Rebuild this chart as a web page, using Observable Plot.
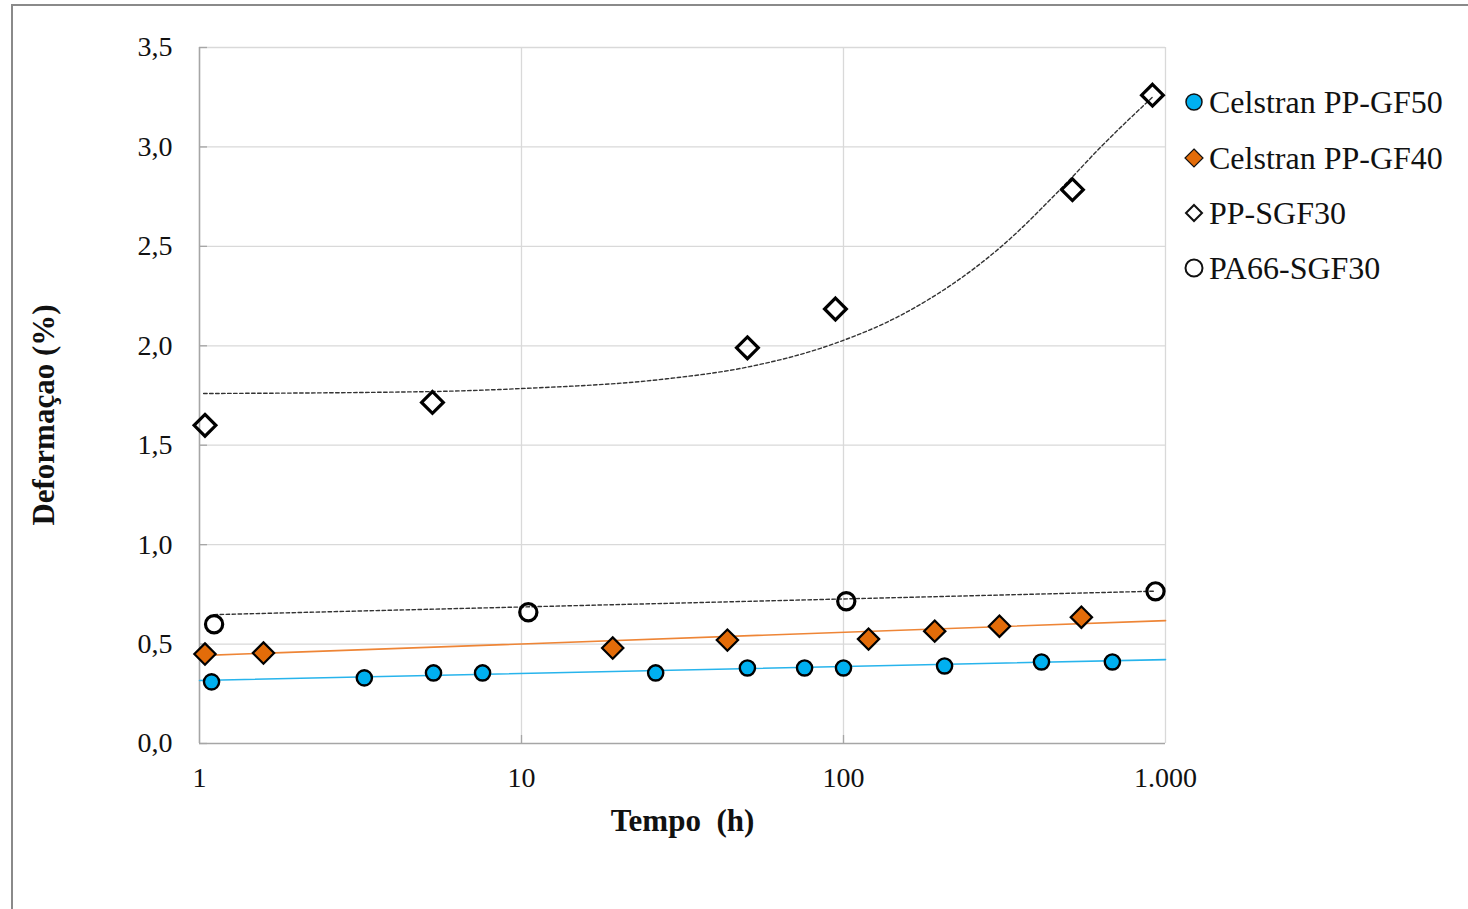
<!DOCTYPE html>
<html>
<head>
<meta charset="utf-8">
<script src="https://cdn.jsdelivr.net/npm/d3@7"></script>
<script src="https://cdn.jsdelivr.net/npm/@observablehq/plot@0.6"></script>
<style>
  html, body { margin: 0; padding: 0; background: #fff; overflow: hidden; }
  #wrap { position: relative; width: 1468px; height: 909px; overflow: hidden; background: #fff; }
  #frame { position: absolute; left: 11px; top: 4px; width: 3000px; height: 3000px; border: 2px solid #8a8a8a; box-sizing: border-box; pointer-events: none; }
  #chart { position: absolute; left: 0; top: 0; }
  #chart svg [aria-label="x-axis label"] text { font-weight: bold; font-size: 31px; }
  #ytitle { position: absolute; left: 43px; top: 415px; transform: translate(-50%, -50%) rotate(-90deg); white-space: nowrap;
            font-family: "Liberation Serif", "Times New Roman", serif; font-weight: bold; font-size: 31px; color: #111; line-height: 1; }
  #legend { position: absolute; left: 1180px; top: 78px; }
  #legend text { font-family: "Liberation Serif", "Times New Roman", serif; font-size: 32px; fill: #111; }
</style>
</head>
<body>
<div id="wrap">
  <div id="chart"></div>
  <div id="ytitle"></div>
  <svg id="legend" width="288" height="220"></svg>
  <div id="frame"></div>
</div>
<script>
// ---- data ----
const seriesNames = ["Celstran PP-GF50", "Celstran PP-GF40", "PP-SGF30", "PA66-SGF30"];

const gf50Time  = [1.09, 3.25, 5.33, 7.57, 26.1, 50.3, 75.7, 100, 206, 412, 684];
const gf50Def   = [0.31, 0.33, 0.355, 0.355, 0.355, 0.38, 0.38, 0.38, 0.39, 0.41, 0.41];

const gf40Time  = [1.04, 1.58, 19.2, 43.6, 119.6, 192, 305, 548];
const gf40Def   = [0.45, 0.455, 0.48, 0.52, 0.525, 0.565, 0.59, 0.635];

const sgf30Time = [1.04, 5.29, 50.3, 94.4, 514, 911];
const sgf30Def  = [1.60, 1.715, 1.99, 2.185, 2.785, 3.26];

const pa66Time  = [1.11, 10.5, 102, 931];
const pa66Def   = [0.60, 0.66, 0.715, 0.765];

// trend lines
const trendGF50Time  = [1, 1000];
const trendGF50Def   = [0.317, 0.422];
const trendGF40Time  = [1, 1000];
const trendGF40Def   = [0.442, 0.618];
const trendPA66Time  = [1.11, 931];
const trendPA66Def   = [0.648, 0.766];
const trendSGF30Time = [1.03, 5.3, 10, 28.3, 50, 93.3, 150, 307, 495, 628, 911];
const trendSGF30Def  = [1.76, 1.77, 1.785, 1.834, 1.892, 2.01, 2.152, 2.495, 2.822, 2.998, 3.25];

const xTicks = [1, 10, 100, 1000];
const xTickLabels = ["1", "10", "100", "1.000"];
const yTicks = [0, 0.5, 1.0, 1.5, 2.0, 2.5, 3.0, 3.5];
const yTickLabels = ["0,0", "0,5", "1,0", "1,5", "2,0", "2,5", "3,0", "3,5"];

const xLabel = "Tempo\u00a0\u00a0(h)";
const yLabel = "Deformaçao (%)";

const colors = { gf50: "#00b0f0", gf40: "#e36c09", gf50Trend: "#27b4ec", gf40Trend: "#ee8536", dark: "#000000" };

// ---- tables ----
const zip = (t, v) => t.map((d, i) => ({ t: d, v: v[i] }));
const gf50 = zip(gf50Time, gf50Def);
const gf40 = zip(gf40Time, gf40Def);
const sgf30 = zip(sgf30Time, sgf30Def);
const pa66 = zip(pa66Time, pa66Def);
const tGF50 = zip(trendGF50Time, trendGF50Def);
const tGF40 = zip(trendGF40Time, trendGF40Def);
const tPA66 = zip(trendPA66Time, trendPA66Def);
const tSGF30 = zip(trendSGF30Time, trendSGF30Def);

const chart = Plot.plot({
  width: 1468,
  height: 909,
  marginLeft: 199,
  marginRight: 303,
  marginTop: 47,
  marginBottom: 166,
  style: { fontFamily: "'Liberation Serif', 'Times New Roman', serif", fontSize: "28px", color: "#111", background: "transparent" },
  x: { type: "log", domain: [1, 1000] },
  y: { domain: [0, 3.5] },
  marks: [
    Plot.ruleY(yTicks.filter(d => d > 0), { stroke: "#d9d9d9", strokeWidth: 1.3 }),
    Plot.ruleX(xTicks.filter(d => d > 1), { stroke: "#d9d9d9", strokeWidth: 1.3 }),
    // tick marks pointing inward
    Plot.axisY({ ticks: yTicks, tickSize: -8, tickFormat: () => "", stroke: "#a6a6a6", strokeWidth: 1.3, label: null }),
    Plot.axisX({ ticks: xTicks.filter(d => d > 1 && d < 1000), tickSize: -8, tickFormat: () => "", stroke: "#a6a6a6", strokeWidth: 1.3, label: null }),
    Plot.ruleY([0], { stroke: "#a6a6a6", strokeWidth: 1.6 }),
    Plot.ruleX([1], { stroke: "#a6a6a6", strokeWidth: 1.6 }),
    Plot.axisX({ ticks: xTicks, tickFormat: d => xTickLabels[xTicks.indexOf(d)], tickSize: 0, tickPadding: 24, fontSize: 28,
                 label: xLabel, labelAnchor: "center", labelArrow: "none", labelOffset: 87 }),
    Plot.axisY({ ticks: yTicks, tickFormat: d => yTickLabels[yTicks.indexOf(d)], tickSize: 0, tickPadding: 27, fontSize: 28,
                 label: null }),
    // trend lines
    Plot.line(tGF50, { x: "t", y: "v", stroke: colors.gf50Trend, strokeWidth: 1.6 }),
    Plot.line(tGF40, { x: "t", y: "v", stroke: colors.gf40Trend, strokeWidth: 1.6 }),
    Plot.line(tPA66, { x: "t", y: "v", stroke: "#333", strokeWidth: 1.4, strokeDasharray: "3.5,2.5" }),
    Plot.line(tSGF30, { x: "t", y: "v", stroke: "#333", strokeWidth: 1.4, strokeDasharray: "3.5,2.5", curve: "monotone-x" }),
    // markers
    Plot.dot(gf50, { x: "t", y: "v", r: 7.6, fill: colors.gf50, stroke: colors.dark, strokeWidth: 2.4 }),
    Plot.dot(gf40, { x: "t", y: "v", symbol: "diamond2", r: 9.6, fill: colors.gf40, stroke: colors.dark, strokeWidth: 2.2 }),
    Plot.dot(sgf30, { x: "t", y: "v", symbol: "diamond2", r: 9.8, fill: "none", stroke: colors.dark, strokeWidth: 3.2 }),
    Plot.dot(pa66, { x: "t", y: "v", r: 8.6, fill: "none", stroke: colors.dark, strokeWidth: 3.2 })
  ]
});
document.getElementById("chart").appendChild(chart);
document.getElementById("ytitle").textContent = yLabel;

// ---- legend ----
const lg = d3.select("#legend");
const rowY = [24, 80, 135, 190];
const mx = 14;
const rows = lg.selectAll("g").data(seriesNames).join("g").attr("transform", (d, i) => `translate(0,${rowY[i]})`);
rows.each(function (d, i) {
  const g = d3.select(this);
  if (i === 0) g.append("circle").attr("cx", mx).attr("cy", 0).attr("r", 8).attr("fill", colors.gf50).attr("stroke", "#111").attr("stroke-width", 1.5);
  if (i === 1) g.append("path").attr("d", `M${mx},-9L${mx + 9},0L${mx},9L${mx - 9},0Z`).attr("fill", colors.gf40).attr("stroke", "#111").attr("stroke-width", 1.2);
  if (i === 2) g.append("path").attr("d", `M${mx},-8L${mx + 8},0L${mx},8L${mx - 8},0Z`).attr("fill", "none").attr("stroke", "#111").attr("stroke-width", 2);
  if (i === 3) g.append("circle").attr("cx", mx).attr("cy", 0).attr("r", 8.5).attr("fill", "none").attr("stroke", "#111").attr("stroke-width", 2);
  g.append("text").attr("x", 29).attr("y", 0).attr("dy", "0.35em").text(d);
});
</script>
</body>
</html>
